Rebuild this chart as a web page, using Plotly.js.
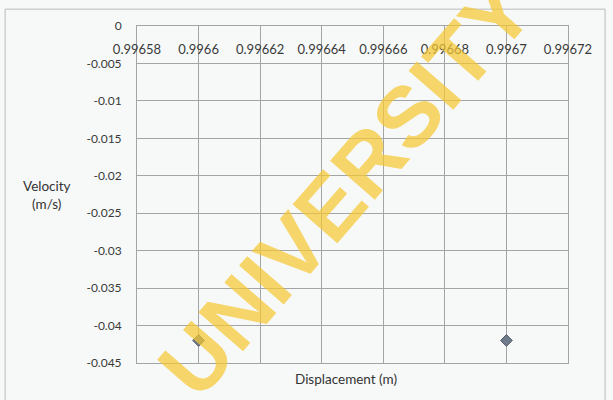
<!DOCTYPE html>
<html>
<head>
<meta charset="utf-8">
<script src="https://cdn.plot.ly/plotly-3.0.1.min.js"></script>
<style>
  html, body { margin: 0; padding: 0; background: #f7f9f9; }
  #chart { width: 613px; height: 400px; }
</style>
</head>
<body>
<div id="chart"></div>
<script>
// Measured displacement and velocity samples
const displacement = [0.9966, 0.9967];
const velocity = [-0.042, -0.042];

// Axis tick values and their printed labels
const xTickVals = [0.99658, 0.9966, 0.99662, 0.99664, 0.99666, 0.99668, 0.9967, 0.99672];
const xTickText = ['0.99658', '0.9966', '0.99662', '0.99664', '0.99666', '0.99668', '0.9967', '0.99672'];
const yTickVals = [0, -0.005, -0.01, -0.015, -0.02, -0.025, -0.03, -0.035, -0.04, -0.045];
const yTickText = ['0', '-0.005', '-0.01', '-0.015', '-0.02', '-0.025', '-0.03', '-0.035', '-0.04', '-0.045'];

const textFont = { family: 'Lato, "Open Sans", sans-serif', size: 12, color: '#3a3a3a' };
const xTickFont = { family: 'Lato, "Open Sans", sans-serif', size: 13, color: '#3a3a3a' };
const titleFont = { family: 'Lato, "Open Sans", sans-serif', size: 13.5, color: '#333333' };
const gridColor = '#a2a4a6';

const trace = {
  x: displacement,
  y: velocity,
  type: 'scatter',
  mode: 'markers',
  marker: { symbol: 'diamond', size: 9, color: '#6f7a8a', line: { color: '#4e5766', width: 1 } },
  hoverinfo: 'x+y'
};

const layout = {
  width: 613,
  height: 400,
  margin: { l: 137, r: 45, t: 26, b: 37 },
  paper_bgcolor: '#f7f9f9',
  plot_bgcolor: '#f7f9f9',
  showlegend: false,
  font: textFont,
  xaxis: {
    range: [0.996579999, 0.996720001],
    side: 'top',
    tickvals: xTickVals,
    ticktext: xTickText,
    ticklabelposition: 'inside',
    ticklabeloverflow: 'allow',
    ticklabelstandoff: 19,
    ticks: '',
    showgrid: true,
    gridcolor: gridColor,
    gridwidth: 1,
    zeroline: false,
    showline: true,
    linecolor: gridColor,
    mirror: true,
    tickfont: xTickFont
  },
  yaxis: {
    range: [-0.04501, 0.00001],
    tickvals: yTickVals,
    ticktext: yTickText,
    ticks: '',
    ticklabelstandoff: 12,
    ticklabeloverflow: 'allow',
    showgrid: true,
    gridcolor: gridColor,
    gridwidth: 1,
    zeroline: false,
    showline: true,
    linecolor: gridColor,
    mirror: true,
    tickfont: textFont
  },
  shapes: [
    {
      type: 'rect', xref: 'paper', yref: 'paper',
      x0: -0.306, x1: 1.086, y0: -0.2, y1: 1.05,
      line: { color: '#b8babb', width: 1 }, fillcolor: 'rgba(0,0,0,0)', layer: 'below'
    }
  ],
  annotations: [
    {
      text: 'Velocity<br>(m/s)', xref: 'paper', yref: 'paper',
      x: -0.208, y: 0.5, xanchor: 'center', yanchor: 'middle',
      showarrow: false, align: 'center', font: titleFont
    },
    {
      text: 'Displacement (m)', xref: 'paper', yref: 'paper',
      x: 0.485, y: -0.0475, xanchor: 'center', yanchor: 'middle',
      showarrow: false, font: titleFont
    },
    {
      text: '<b>UNIVERSITY</b>', xref: 'paper', yref: 'paper',
      x: 0.483, y: 0.52, xanchor: 'center', yanchor: 'middle',
      showarrow: false, textangle: -49,
      font: { family: '"Liberation Sans", Arial, sans-serif', size: 86, color: 'rgba(245, 200, 50, 0.72)' }
    }
  ]
};

Plotly.newPlot('chart', [trace], layout, { displayModeBar: false, staticPlot: true });
</script>
</body>
</html>
